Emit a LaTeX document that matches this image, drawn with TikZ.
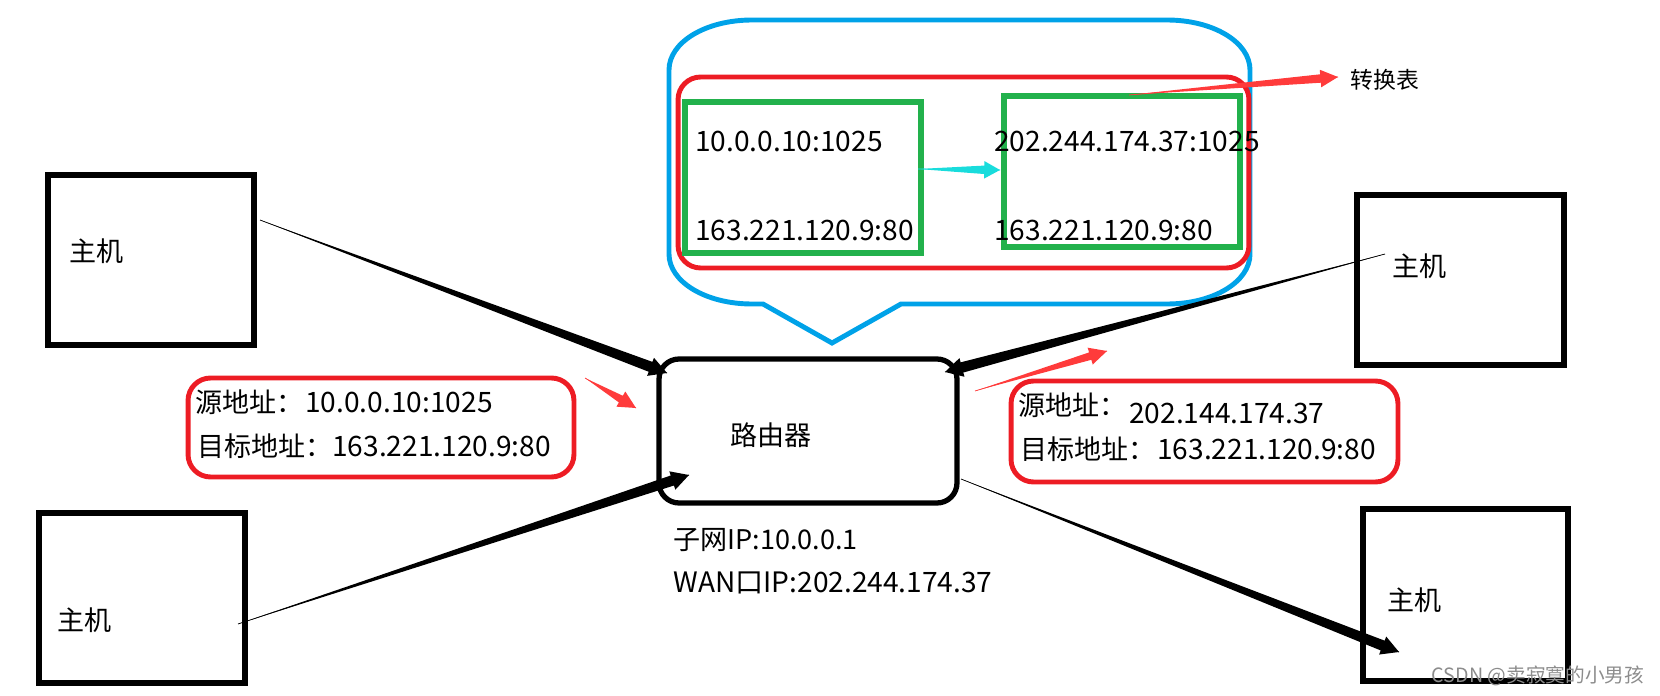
\documentclass[tikz,border=0pt]{standalone}
\usepackage{fontspec}
\setmainfont{Noto Sans CJK SC}
\usetikzlibrary{calc}

\definecolor{bubbleblue}{HTML}{00A2E8}
\definecolor{boxred}{HTML}{ED1C24}
\definecolor{boxgreen}{HTML}{22B14C}
\definecolor{arrowred}{HTML}{FF3B3B}
\definecolor{arrowcyan}{HTML}{19DCDC}

\tikzset{
  hostbox/.style={draw=black, line width=3pt, rectangle, inner sep=0pt, outer sep=0pt},
  routerbox/.style={draw=black, line width=3pt, rectangle, rounded corners=0.4cm, inner sep=0pt, outer sep=0pt},
  addrbox/.style={draw=boxred, line width=2.8pt, rectangle, rounded corners=0.45cm, inner sep=0pt, outer sep=0pt},
  tablebox/.style={draw=boxgreen, line width=3pt, rectangle, inner sep=0pt, outer sep=0pt},
  txt/.style={anchor=west, inner sep=0pt, font=\fontsize{16}{18}\selectfont},
  cjktxt/.style={anchor=west, inner sep=0pt, font=\fontsize{15.4}{18}\selectfont},
  mark text/.style={anchor=center, inner sep=0pt, text=black!45, font=\fontsize{11.2}{14}\selectfont}
}

% colour, from, to, shaft half width, head half width, head length
\newcommand{\taperarrow}[6]{
  \draw[#1, line width=0.4pt] (#2) -- (#3);
  \fill[#1] (#2) -- ($(#3)!#6!(#2)!#4!90:(#3)$) -- ($(#3)!#6!(#2)!#5!90:(#3)$) -- (#3)
    -- ($(#3)!#6!(#2)!#5!-90:(#3)$) -- ($(#3)!#6!(#2)!#4!-90:(#3)$) -- cycle;
}

\begin{document}
\begin{tikzpicture}[x=0.02cm, y=-0.02cm]

\useasboundingbox (0,0) rectangle (1660,696);

\draw[bubbleblue, line width=2.8pt] (752,20) -- (1167,20)
  .. controls (1213,20) and (1250,42) .. (1250,70) -- (1250,254)
  .. controls (1250,282) and (1213,304) .. (1167,304) -- (901,304) -- (832,343) -- (763,304) -- (752,304)
  .. controls (706,304) and (669,282) .. (669,254) -- (669,70)
  .. controls (669,42) and (706,20) .. (752,20) -- cycle;

\node[addrbox, minimum width=11.42cm, minimum height=3.82cm] (tablered) at (963.5,172.5) {};
\node[tablebox, minimum width=4.72cm, minimum height=3.02cm] (inside) at (803,177.5) {};
\node[tablebox, minimum width=4.72cm, minimum height=3.02cm] (outside) at (1122,171.5) {};

\node[txt] (insidea) at (695,141) {10.0.0.10:1025};
\node[txt] (insideb) at (695,230) {163.221.120.9:80};
\node[txt] (outsidea) at (994,141) {202.244.174.37:1025};
\node[txt] (outsideb) at (994,230) {163.221.120.9:80};
\node[txt] (tablename) at (1350,80) {\fontsize{13}{15}\selectfont 转换表};

\node[hostbox, minimum width=4.12cm, minimum height=3.4cm] (hosta) at (151,260) {};
\node[hostbox, minimum width=4.12cm, minimum height=3.4cm] (hostb) at (142,598) {};
\node[hostbox, minimum width=4.14cm, minimum height=3.4cm] (hostc) at (1460.5,280) {};
\node[hostbox, minimum width=4.1cm, minimum height=3.44cm] (hostd) at (1465.5,595) {};

\node[cjktxt] (hostatext) at (69,251) {主机};
\node[cjktxt] (hostbtext) at (57,620) {主机};
\node[cjktxt] (hostctext) at (1392,266) {主机};
\node[cjktxt] (hostdtext) at (1387,600) {主机};

\node[routerbox, minimum width=5.96cm, minimum height=2.88cm] (router) at (808,431) {};
\node[cjktxt] (routertext) at (730,435) {路由器};
\node[cjktxt] (routerlan) at (673,540) {子网IP:10.0.0.1};
\node[txt] (routerwan) at (673,583) {WAN口IP:202.244.174.37};

\node[addrbox, minimum width=7.72cm, minimum height=1.98cm] (srcbox) at (381,427.5) {};
\node[cjktxt] (srclabel) at (195,402) {源地址：};
\node[txt] (srcaddr) at (305,402) {10.0.0.10:1025};
\node[cjktxt] (dstlabel) at (197,446) {目标地址：};
\node[txt] (dstaddr) at (332,446) {163.221.120.9:80};

\node[addrbox, minimum width=7.74cm, minimum height=2.02cm] (natbox) at (1204.5,431.5) {};
\node[cjktxt] (natlabel) at (1018,405) {源地址：};
\node[txt] (nataddr) at (1129,413) {202.144.174.37};
\node[cjktxt] (natdstlabel) at (1020,449) {目标地址：};
\node[txt] (natdstaddr) at (1157,449) {163.221.120.9:80};

\coordinate (linka) at (260,220);
\coordinate (linkatip) at (667,373);
\coordinate (linkb) at (238,624);
\coordinate (linkbtip) at (689,475);
\coordinate (linkc) at (1385,254);
\coordinate (linkctip) at (945,372);
\coordinate (linkd) at (961,479);
\coordinate (linkdtip) at (1399,652);

\taperarrow{black}{linka}{linkatip}{3pt}{5.5pt}{10pt}
\taperarrow{black}{linkb}{linkbtip}{3pt}{5.5pt}{10pt}
\taperarrow{black}{linkc}{linkctip}{3pt}{5.5pt}{10pt}
\taperarrow{black}{linkd}{linkdtip}{3pt}{5.5pt}{10pt}

\coordinate (tablefrom) at (1129,95);
\coordinate (tableto) at (1338,77);
\coordinate (convfrom) at (918,169);
\coordinate (convto) at (1000,170);
\coordinate (flowa) at (585,378);
\coordinate (flowatip) at (636,408);
\coordinate (flowb) at (975,391);
\coordinate (flowbtip) at (1107,351);

\taperarrow{arrowred}{tablefrom}{tableto}{2.4pt}{5pt}{10pt}
\taperarrow{arrowcyan}{convfrom}{convto}{2.4pt}{5pt}{9pt}
\taperarrow{arrowred}{flowa}{flowatip}{2.2pt}{5pt}{10pt}
\taperarrow{arrowred}{flowb}{flowbtip}{2.2pt}{5pt}{10pt}

\node[mark text] (watermark) at (1538,676) {CSDN @卖寂寞的小男孩};

\end{tikzpicture}
\end{document}
